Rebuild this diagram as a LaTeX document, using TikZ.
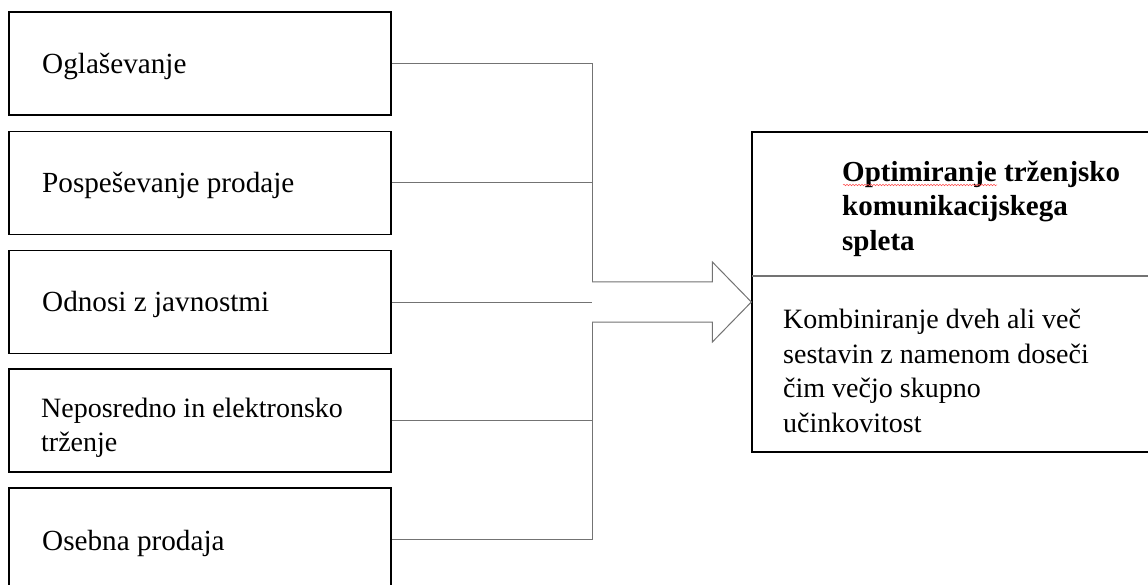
\documentclass[tikz,border=0pt]{standalone}
\usepackage{fontspec}
\setmainfont{Liberation Serif}
\usetikzlibrary{calc,decorations.pathmorphing}
\begin{document}
\begin{tikzpicture}[x=1pt,y=-1pt,
  box/.style={draw=black,line width=1.3pt,rectangle,minimum width=382pt,minimum height=103pt,inner sep=0pt},
  rbox/.style={draw=black,line width=1.3pt,rectangle,minimum width=400pt,minimum height=320pt,inner sep=0pt},
  txt/.style={inner sep=0pt,anchor=base west,align=left,font=\fontsize{29.2}{34.5}\selectfont},
  txtsm/.style={txt,font=\fontsize{28}{34.4}\selectfont},
  conn/.style={draw=black!55,line width=1pt},
  bigarrow/.style={draw=black!55,line width=1pt,fill=white,line join=miter}
]
\useasboundingbox (0,0) rectangle (1148,585);
% left boxes
\node[box] (b1) at (200,63.5) {};
\node[box] (b2) at (200,183) {};
\node[box] (b3) at (200,302) {};
\node[box] (b4) at (200,420.5) {};
\node[box] (b5) at (200,539.5) {};
\node[txt] (t1) at (42,74) {Oglaševanje};
\node[txt] (t2) at (42,192.7) {Pospeševanje prodaje};
\node[txt] (t3) at (42,312) {Odnosi z javnostmi};
\node[txtsm] (t4) at (41,451.8) {Neposredno in elektronsko\\trženje};
\node[txt] (t5) at (42,550) {Osebna prodaja};
% bus
\coordinate (busx) at (592,0);
\foreach \b in {b1,b2,b3,b4,b5}{
  \draw[conn] (\b.east) -- (\b.east -| busx);
}
\draw[conn] (b1.east -| busx) -- (b5.east -| busx);
% right box
\node[rbox] (rb) at (952,292) {};
\coordinate (div) at (752,276);
\draw[conn,line width=1.2pt] (div) -- (div -| rb.east);
\node[txt,font=\fontsize{29}{34.5}\selectfont\bfseries] (title) at (842,250.5) {Optimiranje trženjsko\\komunikacijskega\\spleta};
\draw[red!70,line width=0.5pt,decorate,decoration={snake,amplitude=0.8pt,segment length=3pt}] (843,185) -- (997,185);
\node[txtsm,font=\fontsize{28}{34.5}\selectfont] (body) at (783,432) {Kombiniranje dveh ali več\\sestavin z namenom doseči\\čim večjo skupno\\učinkovitost};
% big arrow
\coordinate (tail) at (592,302);
\coordinate (tip) at (rb.west |- tail);
\draw[bigarrow] ($(tail)+(0,-20)$) -- ($(tip)+(-39,-20)$) -- ($(tip)+(-39,-40)$) -- (tip)
  -- ($(tip)+(-39,40)$) -- ($(tip)+(-39,20)$) -- ($(tail)+(0,20)$);
\end{tikzpicture}
\end{document}
